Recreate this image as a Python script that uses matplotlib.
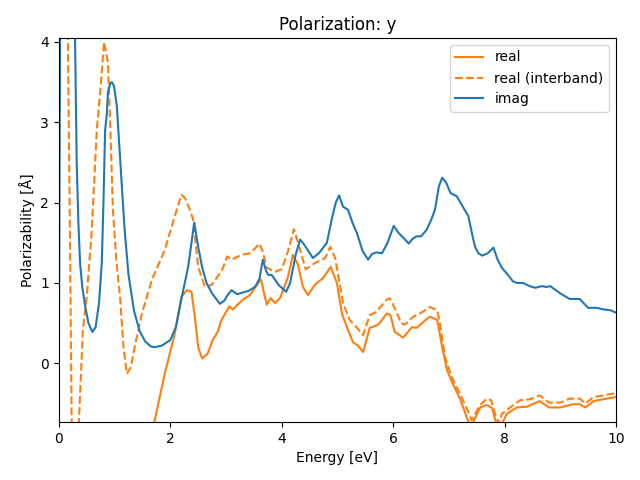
import matplotlib
matplotlib.use('Agg')
import matplotlib.pyplot as plt

# imaginary part
x_imag = [0.0, 0.03, 0.1, 0.2, 0.27, 0.29, 0.32, 0.35, 0.38, 0.42, 0.47, 0.53, 0.6, 0.66, 0.72,
          0.77, 0.8, 0.83, 0.86, 0.88, 0.92, 0.95, 0.99, 1.04, 1.1, 1.18, 1.25, 1.35, 1.45,
          1.55, 1.65, 1.72,
          1.85, 2.0, 2.1, 2.2, 2.32, 2.43, 2.5, 2.57, 2.65, 2.75, 2.89, 2.97, 3.03, 3.1, 3.2,
          3.3, 3.4, 3.52, 3.6, 3.66, 3.72, 3.76, 3.82, 3.95, 4.08, 4.15, 4.25, 4.33, 4.4,
          4.56, 4.68, 4.81, 4.9, 4.97, 5.03, 5.1, 5.19, 5.27, 5.35, 5.45, 5.55, 5.62, 5.7,
          5.8, 5.9, 6.01, 6.1, 6.2, 6.28, 6.35, 6.42, 6.5, 6.6, 6.68, 6.75, 6.82, 6.88, 6.95,
          7.03, 7.08, 7.14, 7.25, 7.35, 7.42, 7.47, 7.53, 7.6, 7.7, 7.8, 7.87, 7.95, 8.06,
          8.15, 8.22, 8.33, 8.45, 8.55, 8.67, 8.75, 8.82, 8.9, 9.0, 9.17, 9.35, 9.43, 9.5,
          9.65, 9.78, 9.9, 10.0]
y_imag = [0.0, 6.0, 8.0, 6.5, 4.6, 4.05, 2.5, 1.75, 1.25, 0.95, 0.72, 0.5, 0.39, 0.45, 0.75,
          1.25, 2.0, 2.9, 3.1, 3.37, 3.48, 3.5, 3.45, 3.2, 2.54, 1.66, 1.1, 0.65, 0.4,
          0.27, 0.21, 0.2,
          0.22, 0.29, 0.45, 0.8, 1.2, 1.75, 1.45, 1.2, 1.0, 0.87, 0.74, 0.78, 0.85, 0.91, 0.86,
          0.88, 0.9, 0.95, 1.05, 1.29, 1.15, 1.1, 1.1, 0.97, 0.89, 1.0, 1.35, 1.54, 1.48,
          1.31, 1.38, 1.5, 1.8, 2.0, 2.09, 1.95, 1.91, 1.75, 1.62, 1.4, 1.29, 1.36, 1.38,
          1.37, 1.5, 1.71, 1.62, 1.55, 1.49, 1.55, 1.58, 1.58, 1.66, 1.78, 1.91, 2.2, 2.31, 2.25,
          2.12, 2.1, 2.08, 1.95, 1.83, 1.6, 1.45, 1.37, 1.34, 1.37, 1.44, 1.3, 1.19, 1.1,
          1.02, 1.0, 1.0, 0.96, 0.94, 0.96, 0.95, 0.96, 0.92, 0.87, 0.8, 0.8, 0.74, 0.69,
          0.69, 0.67, 0.66, 0.63]

# real part (total)
x_real = [0.05, 0.5, 1.0, 1.4, 1.72, 1.9, 2.08, 2.2, 2.3, 2.38, 2.44, 2.5, 2.57, 2.67,
          2.76, 2.85, 2.92, 3.06, 3.12, 3.3, 3.43, 3.58, 3.63, 3.73, 3.8, 3.88, 3.97, 4.11,
          4.2, 4.29, 4.38, 4.47, 4.6, 4.74, 4.88, 4.99, 5.08, 5.17, 5.28, 5.37, 5.46, 5.58,
          5.73, 5.89, 5.95, 6.03, 6.18, 6.34, 6.42, 6.55, 6.66, 6.79, 6.88, 6.97, 7.06, 7.2,
          7.34, 7.4, 7.46, 7.56, 7.68, 7.78, 7.85, 7.95, 8.04, 8.22, 8.4, 8.63, 8.8, 9.0,
          9.23, 9.35, 9.45, 9.6, 9.83, 10.0]
y_real = [-30.0, -8.0, -3.0, -1.5, -0.71, -0.13, 0.37, 0.83, 0.91, 0.89, 0.58, 0.2, 0.06, 0.12,
          0.29, 0.39, 0.54, 0.71, 0.67, 0.79, 0.85, 1.0, 1.04, 0.73, 0.81, 0.75, 0.81, 1.07,
          1.35, 1.23, 0.95, 0.85, 0.98, 1.06, 1.2, 1.0, 0.62, 0.45, 0.26, 0.22, 0.14, 0.44,
          0.48, 0.62, 0.6, 0.39, 0.32, 0.45, 0.44, 0.52, 0.58, 0.54, 0.2, -0.09, -0.24, -0.44,
          -0.71, -0.8, -0.7, -0.55, -0.52, -0.56, -0.75, -0.76, -0.63, -0.55, -0.54, -0.47, -0.55, -0.55,
          -0.51, -0.51, -0.55, -0.47, -0.44, -0.42]

# real part (interband)
x_inter = [0.0, 0.1, 0.16, 0.2, 0.23, 0.28, 0.33, 0.36, 0.43, 0.5, 0.59, 0.68, 0.75, 0.81,
           0.88, 0.92, 0.97, 1.03, 1.1, 1.16, 1.22, 1.29, 1.36, 1.49, 1.67, 1.9, 2.08, 2.2,
           2.27, 2.35, 2.41, 2.5, 2.62, 2.75, 2.93, 3.02, 3.1, 3.28, 3.43, 3.52, 3.6, 3.66,
           3.73, 3.88, 4.0, 4.11, 4.22, 4.33, 4.43, 4.6, 4.78, 4.87, 4.96, 5.1, 5.22, 5.34,
           5.46, 5.58, 5.7, 5.88, 5.94, 6.06, 6.14, 6.21, 6.36, 6.48, 6.66, 6.79, 6.84, 6.93,
           7.05, 7.2, 7.34, 7.41, 7.48, 7.56, 7.68, 7.76, 7.83, 7.9, 7.95, 8.1, 8.28, 8.45,
           8.63, 8.8, 9.0, 9.17, 9.35, 9.45, 9.6, 9.77, 10.0]
y_inter = [7.0, 5.5, 4.1, 1.5, -0.8, -2.0, -1.5, -0.72, 0.41, 0.83, 1.65, 2.9, 3.45, 4.0,
           3.75, 3.0, 1.9, 1.3, 0.8, 0.2, -0.13, -0.05, 0.2, 0.62, 1.04, 1.41, 1.83, 2.1,
           2.05, 1.91, 1.79, 1.2, 0.95, 0.98, 1.16, 1.33, 1.29, 1.35, 1.37, 1.43, 1.49, 1.39,
           1.19, 1.14, 1.17, 1.39, 1.67, 1.41, 1.17, 1.25, 1.31, 1.45, 1.31, 0.75, 0.54, 0.45,
           0.35, 0.6, 0.64, 0.79, 0.81, 0.64, 0.5, 0.48, 0.58, 0.62, 0.7, 0.66, 0.5, 0.08,
           -0.17, -0.38, -0.59, -0.71, -0.62, -0.52, -0.44, -0.46, -0.63, -0.75, -0.63, -0.55, -0.46, -0.45,
           -0.4, -0.49, -0.49, -0.44, -0.44, -0.5, -0.42, -0.4, -0.37]

fig, ax = plt.subplots(figsize=(6.4, 4.8), dpi=100)
ax.plot(x_real, y_real, color='C1', label='real')
ax.plot(x_inter, y_inter, color='C1', ls='--', label='real (interband)')
ax.plot(x_imag, y_imag, color='C0', label='imag')
ax.set_xlim(0, 10)
ax.set_ylim(-0.73, 4.05)
ax.set_xlabel('Energy [eV]')
ax.set_ylabel('Polarizability [Å]')
ax.set_title('Polarization: y')
ax.legend(loc='upper right')
fig.subplots_adjust(left=0.092, right=0.9625, top=0.921, bottom=0.121)
plt.savefig('out.png')
